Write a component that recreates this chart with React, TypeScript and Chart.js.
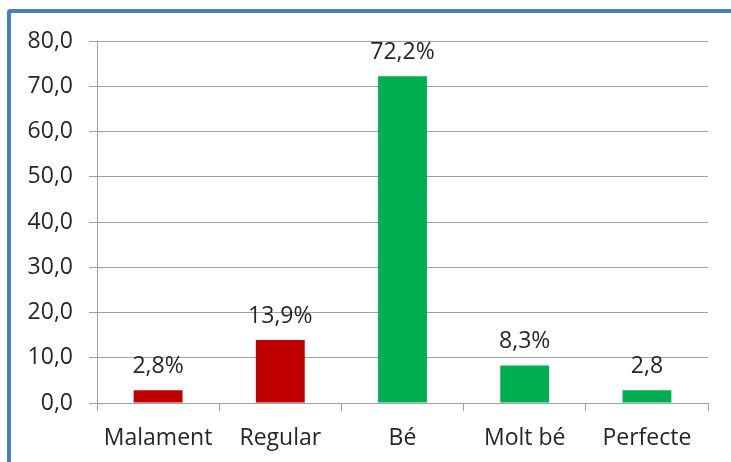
import React, { useEffect, useRef } from "react";
import { Chart, registerables } from "chart.js";

Chart.register(...registerables);

const categories = ["Malament", "Regular", "Bé", "Molt bé", "Perfecte"];
const values = [2.8, 13.9, 72.2, 8.3, 2.8];
const valueLabels = ["2,8%", "13,9%", "72,2%", "8,3%", "2,8"];
const barColors = ["#C00000", "#C00000", "#00B050", "#00B050", "#00B050"];
const yMin = 0;
const yMax = 80;
const yStep = 10;

const FONT = "'Open Sans', sans-serif";
const GRID = "#A0A0A0";
const TEXT = "#262626";

const labelPlugin = {
  id: "valueLabels",
  afterDatasetsDraw(chart: any) {
    const ctx = chart.ctx;
    const meta = chart.getDatasetMeta(0);
    ctx.save();
    ctx.font = `23px ${FONT}`;
    ctx.fillStyle = TEXT;
    ctx.textAlign = "center";
    ctx.textBaseline = "alphabetic";
    meta.data.forEach((bar: any, i: number) => {
      ctx.fillText(valueLabels[i], bar.x, bar.y - 17);
    });
    ctx.restore();
  },
};

export default function App() {
  const ref = useRef<HTMLCanvasElement | null>(null);
  useEffect(() => {
    document.body.style.margin = "0";
    const chart = new Chart(ref.current!, {
      type: "bar",
      data: {
        labels: categories,
        datasets: [
          {
            data: values,
            backgroundColor: barColors,
            borderWidth: 0,
            barPercentage: 0.4,
            categoryPercentage: 1,
          },
        ],
      },
      options: {
        responsive: false,
        animation: false,
        layout: { padding: { top: 41, right: 23, left: 0, bottom: 0 } },
        plugins: { legend: { display: false }, tooltip: { enabled: false } },
        scales: {
          x: {
            grid: {
              display: true,
              drawOnChartArea: false,
              drawTicks: true,
              tickLength: 8,
              color: GRID,
              offset: true,
            },
            border: { display: true, color: GRID },
            ticks: {
              color: TEXT,
              font: { family: FONT, size: 23 },
              padding: 14,
              maxRotation: 0,
            },
            afterFit: (s: any) => {
              s.height = 59;
            },
          },
          y: {
            min: yMin,
            max: yMax,
            grid: { color: GRID, tickLength: 8 },
            border: { display: true, color: GRID },
            ticks: {
              stepSize: yStep,
              color: TEXT,
              font: { family: FONT, size: 23 },
              padding: 16,
              callback: (v: any) => Number(v).toFixed(1).replace(".", ","),
            },
            afterFit: (s: any) => {
              s.width = 97;
            },
          },
        },
      },
      plugins: [labelPlugin],
    });
    return () => chart.destroy();
  }, []);
  return (
    <div style={{ position: "fixed", left: 0, top: 0, width: 731, height: 462, overflow: "hidden", background: "#fff" }}>
      <canvas ref={ref} width={731} height={462} style={{ display: "block" }} />
      <div
        style={{
          position: "absolute",
          left: 7,
          top: 9,
          width: 760,
          height: 500,
          borderLeft: "4px solid #4A7EBB",
          borderTop: "4px solid #4A7EBB",
          borderTopLeftRadius: 4,
          boxSizing: "border-box",
          pointerEvents: "none",
        }}
      />
    </div>
  );
}
